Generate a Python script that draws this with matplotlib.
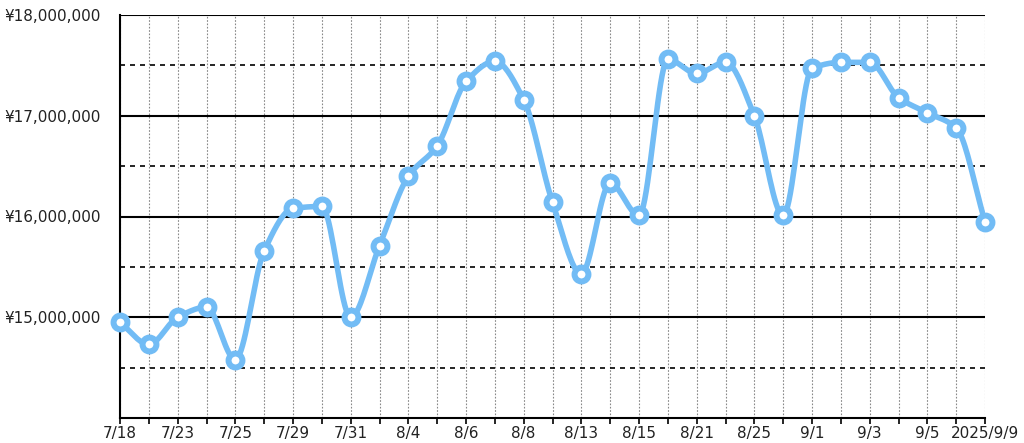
import numpy as np
import matplotlib
matplotlib.use("Agg")
import matplotlib.pyplot as plt
from matplotlib.ticker import FuncFormatter

plt.rcParams["font.family"] = ["DejaVu Sans"]

# every other point carries a date label
tick_labels = ["7/18", "7/23", "7/25", "7/29", "7/31", "8/4", "8/6", "8/8",
               "8/13", "8/15", "8/21", "8/25", "9/1", "9/3", "9/5", "2025/9/9"]

values = [14.95, 14.73, 15.00, 15.10, 14.58, 15.66, 16.08, 16.10, 15.00, 15.71,
          16.40, 16.70, 17.34, 17.54, 17.16, 16.14, 15.43, 16.33, 16.01, 17.56,
          17.42, 17.53, 17.00, 16.01, 17.47, 17.53, 17.53, 17.18, 17.03, 16.88,
          15.95]
values = [v * 1e6 for v in values]

y_major = [15e6, 16e6, 17e6, 18e6]
y_half = [14.5e6, 15.5e6, 16.5e6, 17.5e6]

line_color = "#72bcf5"


def monotone_curve(x, y, n=20):
    x = np.asarray(x, float)
    y = np.asarray(y, float)
    h = np.diff(x)
    d = np.diff(y) / h
    m = np.zeros_like(y)
    m[0], m[-1] = d[0], d[-1]
    for i in range(1, len(y) - 1):
        if d[i - 1] * d[i] <= 0:
            m[i] = 0.0
        else:
            w1 = 2 * h[i] + h[i - 1]
            w2 = h[i] + 2 * h[i - 1]
            m[i] = (w1 + w2) / (w1 / d[i - 1] + w2 / d[i])
    xs, ys = [], []
    for i in range(len(x) - 1):
        t = np.linspace(0, 1, n, endpoint=False)
        h00 = 2 * t**3 - 3 * t**2 + 1
        h10 = t**3 - 2 * t**2 + t
        h01 = -2 * t**3 + 3 * t**2
        h11 = t**3 - t**2
        xs.append(x[i] + t * h[i])
        ys.append(h00 * y[i] + h10 * h[i] * m[i] + h01 * y[i + 1] + h11 * h[i] * m[i + 1])
    xs.append([x[-1]])
    ys.append([y[-1]])
    return np.concatenate(xs), np.concatenate(ys)


x = np.arange(len(values))

fig = plt.figure(figsize=(10.24, 4.43), dpi=100)
ax = fig.add_axes([120 / 1024, 1 - 418 / 443, 865 / 1024, 403 / 443])

for xi in x:
    ax.axvline(xi, color="#888888", lw=0.8, ls=(0, (1.5, 1.5)), zorder=1)
for yv in y_half:
    ax.axhline(yv, color="black", lw=1.2, ls=(0, (3, 3)), zorder=1)
for yv in y_major:
    ax.axhline(yv, color="black", lw=1.5, zorder=1)

cx, cy = monotone_curve(x, values)
ax.plot(cx, cy, color=line_color, lw=4, zorder=3, solid_capstyle="round")
ax.plot(x, values, ls="none", marker="o", ms=10, mfc="white", mec=line_color,
        mew=4.3, zorder=4, clip_on=False)

ax.set_xlim(0, len(values) - 1)
ax.set_ylim(14e6, 18e6)

ax.set_xticks(x)
labels = [""] * len(x)
for i, lab in enumerate(tick_labels):
    labels[2 * i] = lab
ax.set_xticklabels(labels, fontsize=11, color="#222222")
ax.set_yticks(y_major)
ax.yaxis.set_major_formatter(FuncFormatter(lambda v, p: "¥{:,.0f}".format(v)))
ax.tick_params(axis="y", length=0, pad=14, labelsize=11, labelcolor="#222222")
ax.tick_params(axis="x", length=4, width=1.2, pad=2, color="black")

for s in ("top", "right"):
    ax.spines[s].set_visible(False)
ax.spines["left"].set_linewidth(1.5)
ax.spines["bottom"].set_linewidth(1.5)

fig.savefig("out.png", dpi=100)
